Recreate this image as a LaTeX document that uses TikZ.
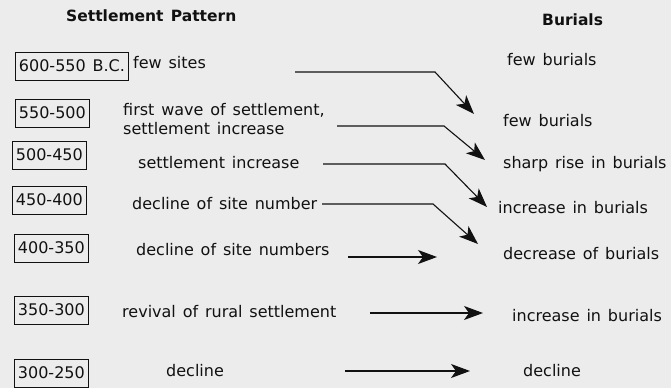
\documentclass[tikz,border=0pt]{standalone}
\usepackage{fontspec}
\setmainfont[WordSpace=1.35]{DejaVu Sans}
\usepackage{tikz}
\usetikzlibrary{arrows.meta}
\definecolor{sppaper}{HTML}{ECECEC}
\definecolor{spink}{HTML}{111111}

\begin{document}
\begin{tikzpicture}[x=1pt, y=-1pt,
  period/.style={draw=spink, line width=0.9pt, anchor=west, inner xsep=3.5pt, minimum height=28pt, font=\fontsize{16}{19}\selectfont, text=spink},
  label/.style={anchor=base west, inner sep=0pt, font=\fontsize{16}{19}\selectfont, text=spink},
  head/.style={anchor=base west, inner sep=0pt, font=\fontsize{15.5}{19}\selectfont\bfseries, text=spink},
  flow/.style={draw=spink, line width=1.1pt, -{Stealth[length=19pt, width=14pt, inset=5pt]}}]
  \fill[sppaper] (0,0) rectangle (671,388);
  \node[head] (hset) at (66,21) {Settlement Pattern};
  \node[head] (hbur) at (542,25) {Burials};
  \node[period] (p1) at (15,66) {600-550 B.C.};
  \node[period] (p2) at (15,113) {550-500};
  \node[period] (p3) at (12,155) {500-450};
  \node[period] (p4) at (12,200) {450-400};
  \node[period] (p5) at (14,248) {400-350};
  \node[period] (p6) at (14,310) {350-300};
  \node[period] (p7) at (14,373) {300-250};
  \node[label] (s1) at (133,68) {few sites};
  \node[label] (s2a) at (123,115) {first wave of settlement,};
  \node[label] (s2b) at (123,134) {settlement increase};
  \node[label] (s3) at (138,168) {settlement increase};
  \node[label] (s4) at (132,209) {decline of site number};
  \node[label] (s5) at (136,255) {decline of site numbers};
  \node[label] (s6) at (122,317) {revival of rural settlement};
  \node[label] (s7) at (166,376) {decline};
  \node[label] (b1) at (507,65) {few burials};
  \node[label] (b2) at (503,126) {few burials};
  \node[label] (b3) at (503,168) {sharp rise in burials};
  \node[label] (b4) at (498,213) {increase in burials};
  \node[label] (b5) at (503,259) {decrease of burials};
  \node[label] (b6) at (512,321) {increase in burials};
  \node[label] (b7) at (523,376) {decline};
  \coordinate (a1s) at (295,72);
  \coordinate (a1k) at (435,72);
  \coordinate (a1e) at (474,114);
  \coordinate (a2s) at (337,126);
  \coordinate (a2k) at (444,126);
  \coordinate (a2e) at (485,160);
  \coordinate (a3s) at (323,164);
  \coordinate (a3k) at (445,164);
  \coordinate (a3e) at (487,207);
  \coordinate (a4s) at (322,204);
  \coordinate (a4k) at (433,204);
  \coordinate (a4e) at (478,244);
  \coordinate (a5s) at (348,257);
  \coordinate (a5e) at (437,257);
  \coordinate (a6s) at (370,313);
  \coordinate (a6e) at (483,313);
  \coordinate (a7s) at (345,371);
  \coordinate (a7e) at (470,371);
  \draw[flow] (a1s) -- (a1k) -- (a1e);
  \draw[flow] (a2s) -- (a2k) -- (a2e);
  \draw[flow] (a3s) -- (a3k) -- (a3e);
  \draw[flow] (a4s) -- (a4k) -- (a4e);
  \draw[flow] (a5s) -- (a5e);
  \draw[flow] (a6s) -- (a6e);
  \draw[flow] (a7s) -- (a7e);
\end{tikzpicture}
\end{document}
